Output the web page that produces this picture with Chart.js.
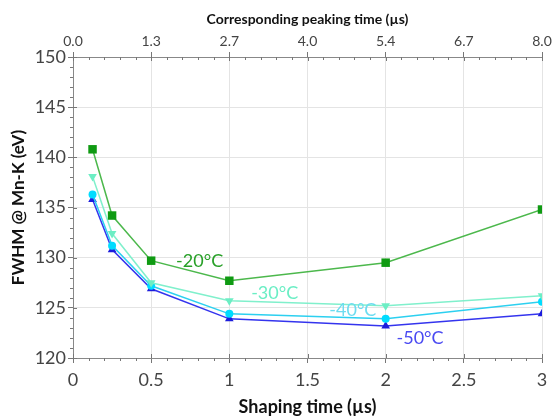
<!DOCTYPE html>
<html>
<head>
<meta charset="utf-8">
<script src="https://cdn.jsdelivr.net/npm/chart.js@4"></script>
<style>
  html, body { margin: 0; padding: 0; background: #fff; }
  #wrap { width: 554px; height: 418px; }
</style>
</head>
<body>
<div id="wrap"><canvas id="fwhmChart" width="554" height="418"></canvas></div>
<script>
// --- DATA ---
const shapingTimes = [0.125, 0.25, 0.5, 1, 2, 3];
const fwhm20 = [140.8, 134.2, 129.7, 127.7, 129.5, 134.8];
const fwhm30 = [138.1, 132.4, 127.5, 125.7, 125.2, 126.2];
const fwhm40 = [136.3, 131.2, 127.2, 124.4, 123.9, 125.6];
const fwhm50 = [135.8, 130.8, 126.9, 123.9, 123.2, 124.4];
const seriesLabels = ['-20°C', '-30°C', '-40°C', '-50°C'];
const labelX = [0.81, 1.29, 1.79, 2.22];
const labelY = [129.6, 126.5, 124.8, 122.0];
const shapingTickLabels = ['0', '0.5', '1', '1.5', '2', '2.5', '3'];
const peakingTickLabels = ['0.0', '1.3', '2.7', '4.0', '5.4', '6.7', '8.0'];

const FONT = 'Lato, "Open Sans", sans-serif';
const lineColors = ['#4cb84c', '#80f0cc', '#2cd0f0', '#3434ee'];
const markColors = ['#0f9a12', '#6ceec4', '#00dcff', '#1c1cdc'];
const textColors = ['#28a028', '#6aeec4', '#6cdcf0', '#4a4af2'];

const toPoints = (ys) => shapingTimes.map((x, i) => ({ x, y: ys[i] }));

const makeSet = (i, ys, style, rot, r) => ({
    label: seriesLabels[i],
    data: toPoints(ys),
    showLine: true,
    borderColor: lineColors[i],
    borderWidth: 1.5,
    pointStyle: style,
    rotation: rot,
    pointRadius: r,
    pointBackgroundColor: markColors[i],
    pointBorderColor: markColors[i],
    pointBorderWidth: 0
});

// --- PLUGINS ---
const minorTicks = {
    id: 'minorTicks',
    afterDraw(chart) {
        const { ctx, chartArea: a, scales } = chart;
        ctx.save();
        ctx.strokeStyle = '#777';
        ctx.lineWidth = 1;
        ctx.beginPath();
        for (let k = 0; k <= 30; k++) {
            const px = Math.round(scales.x.getPixelForValue(k / 10)) + 0.5;
            const major = k % 5 === 0;
            ctx.moveTo(px, a.bottom - (major ? 4 : 0));
            ctx.lineTo(px, a.bottom + (major ? 0 : 3));
            ctx.moveTo(px, a.top);
            ctx.lineTo(px, a.top + (major ? 4 : 3));
        }
        for (let v = 120; v <= 150; v++) {
            const py = Math.round(scales.y.getPixelForValue(v)) + 0.5;
            const major = v % 5 === 0;
            ctx.moveTo(a.left - (major ? 0 : 3), py);
            ctx.lineTo(a.left + (major ? 4 : 0), py);
        }
        ctx.stroke();
        ctx.restore();
    }
};

const seriesText = {
    id: 'seriesText',
    afterDatasetsDraw(chart) {
        const { ctx, scales } = chart;
        ctx.save();
        ctx.font = '18px ' + FONT;
        ctx.textAlign = 'center';
        ctx.textBaseline = 'middle';
        seriesLabels.forEach((t, i) => {
            ctx.fillStyle = textColors[i];
            ctx.fillText(t, scales.x.getPixelForValue(labelX[i]), scales.y.getPixelForValue(labelY[i]));
        });
        ctx.restore();
    }
};

// --- CHART ---
new Chart(document.getElementById('fwhmChart'), {
    type: 'scatter',
    data: {
        datasets: [
            makeSet(0, fwhm20, 'rect', 0, 6),
            makeSet(1, fwhm30, 'triangle', 180, 5),
            makeSet(2, fwhm40, 'circle', 0, 4),
            makeSet(3, fwhm50, 'triangle', 0, 5)
        ]
    },
    options: {
        responsive: false,
        animation: false,
        layout: { padding: { left: 0, right: 12, top: 0, bottom: 0 } },
        plugins: { legend: { display: false }, tooltip: { enabled: false } },
        scales: {
            x: {
                type: 'linear', position: 'bottom', min: 0, max: 3,
                afterFit: (s) => { s.height = 60; },
                ticks: {
                    stepSize: 0.5, color: '#444', font: { family: FONT, size: 18 }, padding: 6, maxRotation: 0,
                    callback: (v, i) => shapingTickLabels[i]
                },
                grid: { color: '#e4e4e4', tickColor: '#777', tickLength: 5 },
                border: { color: '#888' },
                title: { display: true, text: 'Shaping time (µs)', color: '#111', font: { family: FONT, size: 18, weight: 'bold' }, padding: { top: 0, bottom: 0 } }
            },
            x2: {
                type: 'linear', position: 'top', min: 0, max: 3,
                afterFit: (s) => { s.height = 57; },
                ticks: {
                    stepSize: 0.5, color: '#444', font: { family: FONT, size: 14 }, padding: 2, maxRotation: 0,
                    callback: (v, i) => peakingTickLabels[i]
                },
                grid: { drawOnChartArea: false, tickColor: '#777', tickLength: 5 },
                border: { color: '#888' },
                title: { display: true, text: 'Corresponding peaking time (µs)', color: '#111', font: { family: FONT, size: 14, weight: 'bold' }, padding: { top: 11, bottom: 0 } }
            },
            y: {
                min: 120, max: 150,
                afterFit: (s) => { s.width = 73; },
                ticks: { stepSize: 5, color: '#444', font: { family: FONT, size: 18 }, padding: 2 },
                grid: { color: '#e4e4e4', tickColor: '#777', tickLength: 5 },
                border: { color: '#888' },
                title: { display: true, text: 'FWHM @ Mn-K (eV)', color: '#111', font: { family: FONT, size: 17, weight: 'bold' }, padding: { top: 8, bottom: 0 } }
            }
        }
    },
    plugins: [minorTicks, seriesText]
});
</script>
</body>
</html>
